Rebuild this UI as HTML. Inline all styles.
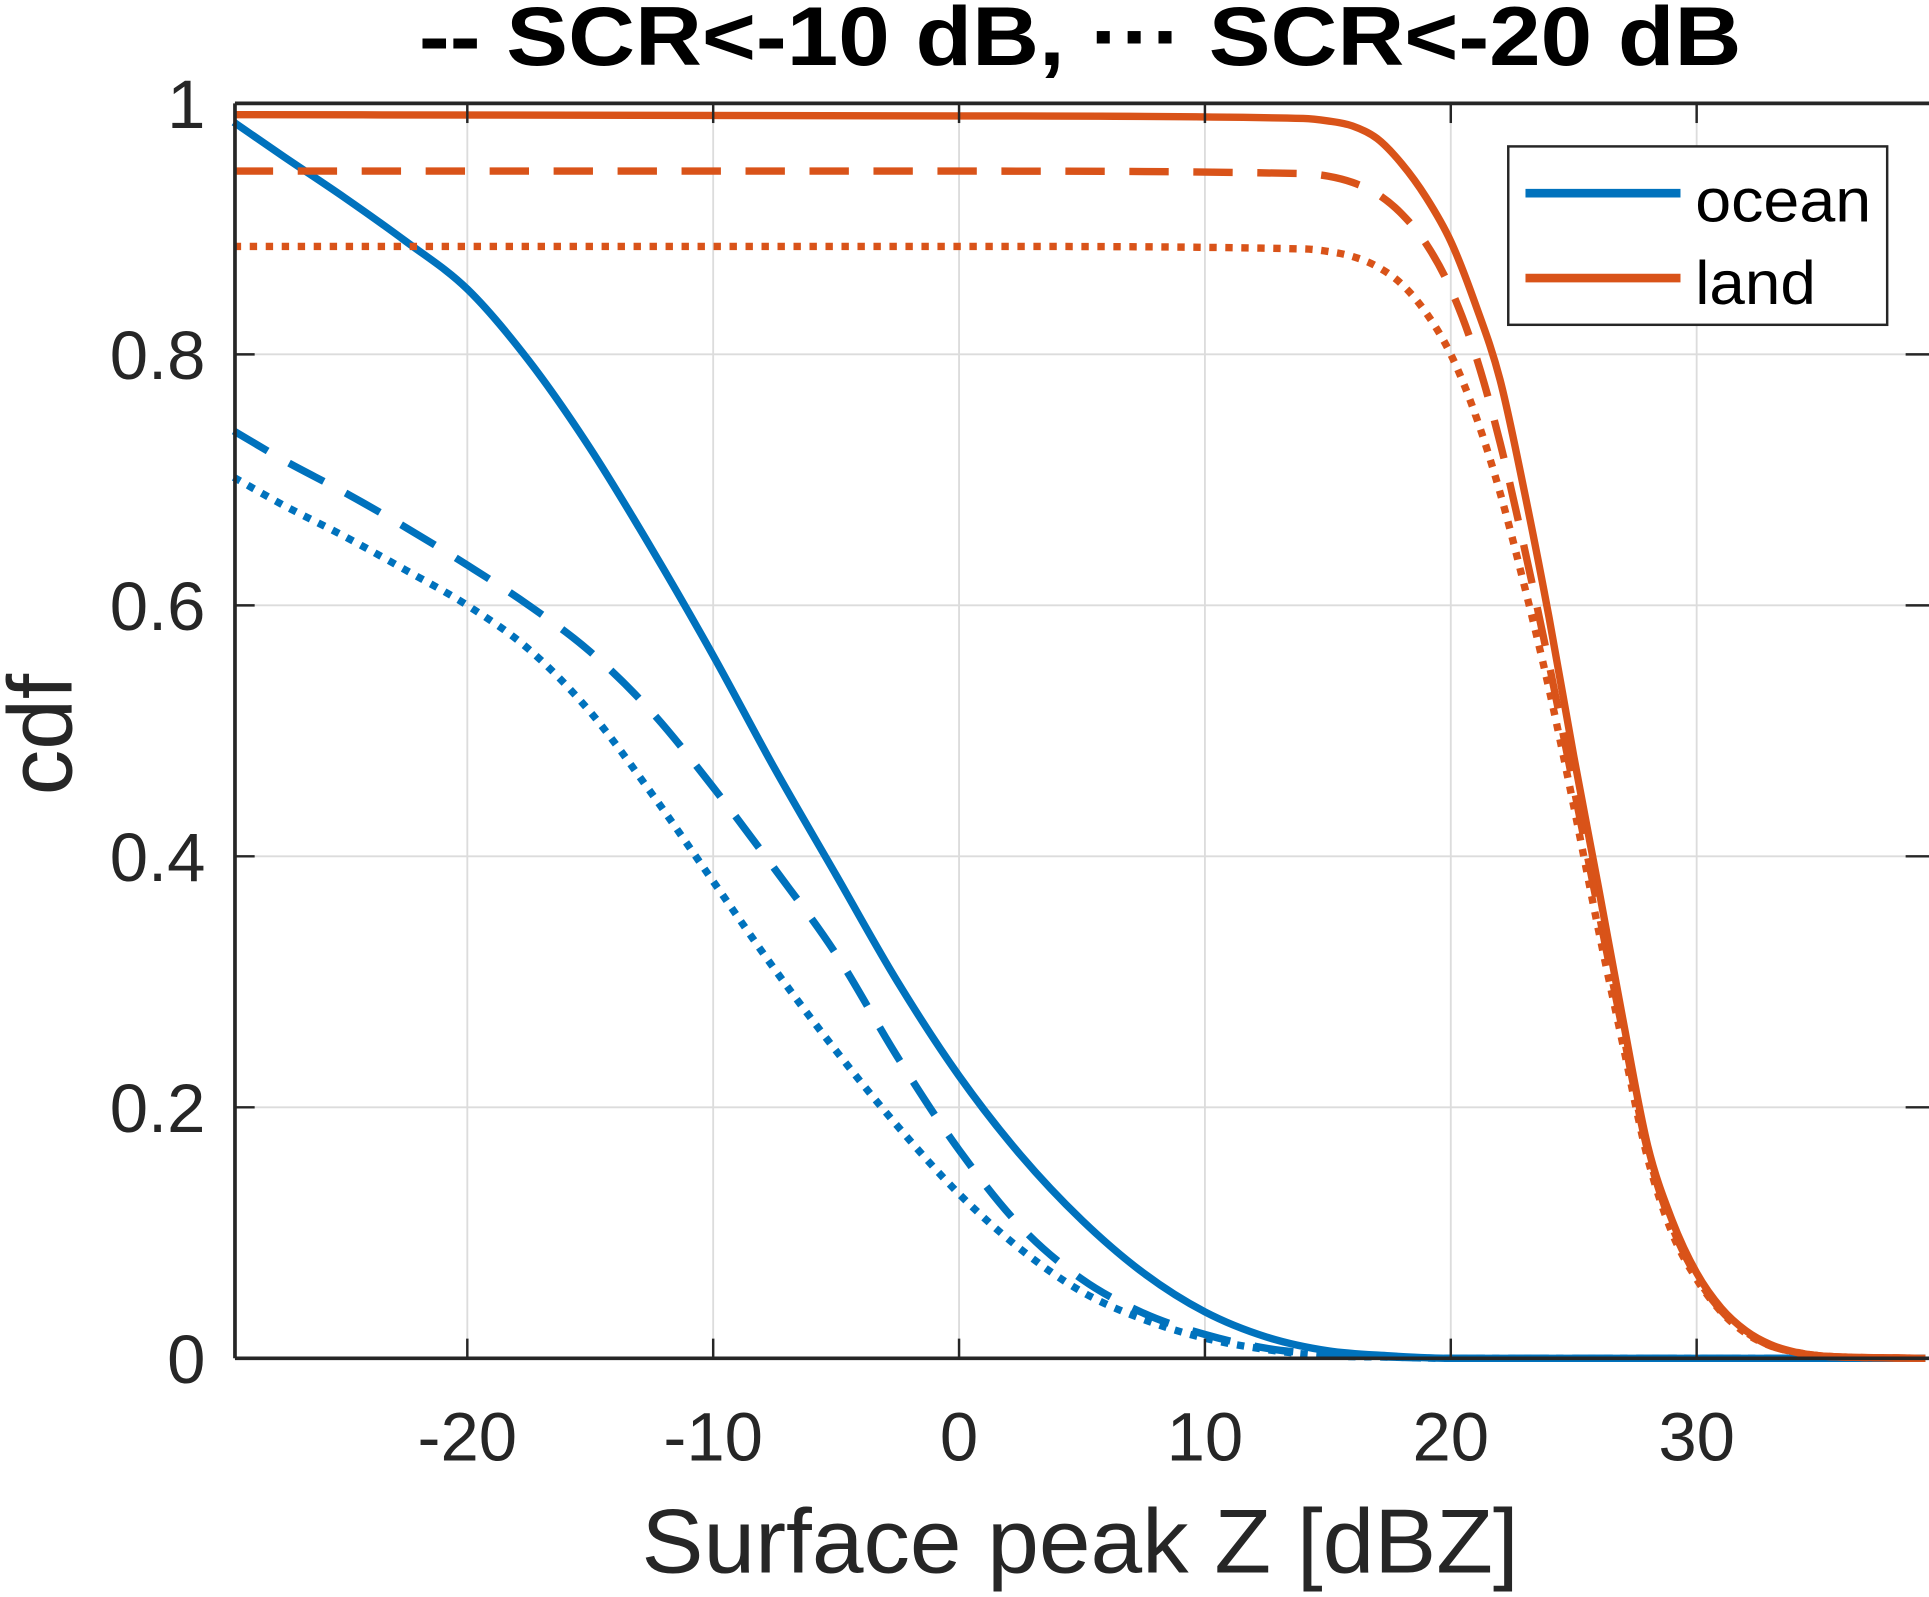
<!DOCTYPE html>
<html><head><meta charset="utf-8"><style>
html,body{margin:0;padding:0;background:#fff;}
svg{display:block;}
text{font-family:"Liberation Sans",Arial,sans-serif;}
</style></head><body>
<svg id="chart" width="1929" height="1597" viewBox="0 0 1568 1298" preserveAspectRatio="none" xmlns="http://www.w3.org/2000/svg">
<g id="grid"></g>
<g id="series"></g>
<g id="axes"></g>
<text x="878" y="53" text-anchor="middle" font-size="68" font-weight="bold" textLength="1075" lengthAdjust="spacingAndGlyphs">-- SCR&lt;-10 dB, ··· SCR&lt;-20 dB</text>
<text x="878" y="1278" text-anchor="middle" font-size="74" fill="#262626" textLength="713" lengthAdjust="spacingAndGlyphs">Surface peak Z [dBZ]</text>
<text transform="translate(58,597) rotate(-90)" text-anchor="middle" font-size="74" fill="#262626">cdf</text>
<g>
<rect x="1226" y="119" width="308" height="145" fill="#fff" stroke="#262626" stroke-width="2"/>
<line x1="1240" y1="157" x2="1366" y2="157" stroke="#0072BD" stroke-width="7"/>
<text x="1378" y="180" font-size="50" textLength="143" lengthAdjust="spacingAndGlyphs">ocean</text>
<line x1="1240" y1="226" x2="1366" y2="226" stroke="#D95319" stroke-width="7"/>
<text x="1378" y="247" font-size="50" textLength="98" lengthAdjust="spacingAndGlyphs">land</text>
</g>
</svg>
<script>
const xTicks=[-20,-10,0,10,20,30];
const yTicks=[0,0.2,0.4,0.6,0.8,1];
const yTickLabels=["0","0.2","0.4","0.6","0.8","1"];
const oceanX=[-29.5,-27.5,-25,-22.5,-20,-17.5,-15,-12.5,-10,-7.5,-5,-2.5,0,2.5,5,7.5,10,12.5,15,17.5,20,39.3];
const oceanSolid=[0.985,0.958,0.925,0.89,0.852,0.795,0.725,0.645,0.56,0.47,0.385,0.30,0.225,0.162,0.11,0.068,0.037,0.017,0.006,0.002,0,0];
const oceanDashed=[0.739,0.716,0.69,0.662,0.632,0.60,0.563,0.515,0.455,0.39,0.322,0.24,0.166,0.105,0.063,0.036,0.019,0.008,0.003,0.001,0,0];
const oceanDotted=[0.702,0.68,0.655,0.628,0.60,0.565,0.515,0.45,0.38,0.31,0.245,0.185,0.131,0.087,0.053,0.031,0.016,0.007,0.002,0.001,0,0];
const landX=[-29.5,0,14,15,16,17,18,19,20,21,22,23,24,25,26,27,28,29,30,31,32,33,34,35,36,39.3];
const landSolid=[0.991,0.99,0.988,0.986,0.982,0.972,0.952,0.925,0.89,0.84,0.78,0.69,0.59,0.48,0.376,0.27,0.17,0.11,0.068,0.04,0.022,0.011,0.005,0.002,0.001,0];
const landDashed=[0.946,0.946,0.944,0.942,0.937,0.928,0.912,0.888,0.852,0.80,0.73,0.645,0.553,0.455,0.357,0.26,0.166,0.105,0.065,0.038,0.021,0.01,0.005,0.002,0.001,0];
const landDotted=[0.886,0.886,0.884,0.882,0.878,0.870,0.856,0.833,0.80,0.752,0.69,0.615,0.533,0.44,0.342,0.25,0.16,0.10,0.063,0.037,0.02,0.01,0.005,0.002,0.001,0];

const L=191,R=1565,T=84,B=1104,X0=-29.45,X1=39.3;
const sx=v=>L+(v-X0)/(X1-X0)*(R-L);
const sy=v=>B-v*(B-T);
const NS="http://www.w3.org/2000/svg";
function mk(tag,attrs,parent){const e=document.createElementNS(NS,tag);for(const k in attrs)e.setAttribute(k,attrs[k]);parent.appendChild(e);return e;}
const grid=document.getElementById('grid'),axes=document.getElementById('axes'),ser=document.getElementById('series');
xTicks.forEach(t=>{
  const g=mk('line',{x1:sx(t),x2:sx(t),y1:T,y2:B,stroke:'#dcdcdc','stroke-width':1.5},grid);
  
  
  const a=mk('line',{x1:sx(t),x2:sx(t),y1:B,y2:B-16,stroke:'#262626','stroke-width':2},axes);
  
  
  const b=mk('line',{x1:sx(t),x2:sx(t),y1:T,y2:T+16,stroke:'#262626','stroke-width':2},axes);
  
  
  const tx=mk('text',{x:sx(t),y:1187,'text-anchor':'middle','font-size':56,fill:'#262626'},axes);
  tx.textContent=String(t);
  
  
});
yTicks.forEach((t,i)=>{
  const g=mk('line',{x1:L,x2:R,y1:sy(t),y2:sy(t),stroke:'#dcdcdc','stroke-width':1.5},grid);
  
  
  const a=mk('line',{x1:L,x2:L+16,y1:sy(t),y2:sy(t),stroke:'#262626','stroke-width':2},axes);
  
  
  const b=mk('line',{x1:R-16,x2:R+3,y1:sy(t),y2:sy(t),stroke:'#262626','stroke-width':2},axes);
  
  
  const tx=mk('text',{x:167,y:sy(t)+20,'text-anchor':'end','font-size':56,fill:'#262626'},axes);
  tx.textContent=yTickLabels[i];
  
  
});
const frame=mk('path',{d:`M${L},${B}H${R+3}M${L},${T}H${R+3}M${L},${T}V${B}`,stroke:'#262626','stroke-width':3,fill:'none'},axes);


function pathFor(xs,ys){
  const n=xs.length,px=xs.map(sx),py=ys.map(sy);
  const d=[],m=new Array(n);
  for(let i=0;i<n-1;i++)d.push((py[i+1]-py[i])/(px[i+1]-px[i]));
  m[0]=d[0];m[n-1]=d[n-2];
  for(let i=1;i<n-1;i++){m[i]=(d[i-1]*d[i]<=0)?0:(d[i-1]+d[i])/2;}
  for(let i=0;i<n-1;i++){
    if(d[i]===0){m[i]=0;m[i+1]=0;continue;}
    const a=m[i]/d[i],b=m[i+1]/d[i],s=a*a+b*b;
    if(s>9){const t=3/Math.sqrt(s);m[i]=t*a*d[i];m[i+1]=t*b*d[i];}
  }
  let p=`M${px[0]},${py[0]}`;
  for(let i=0;i<n-1;i++){
    const h=(px[i+1]-px[i])/3;
    p+=`C${px[i]+h},${py[i]+m[i]*h} ${px[i+1]-h},${py[i+1]-m[i+1]*h} ${px[i+1]},${py[i+1]}`;
  }
  return p;
}
function draw(xs,ys,color,dash,name){
  const attrs={d:pathFor(xs,ys),fill:'none',stroke:color,'stroke-width':6};
  if(dash)attrs['stroke-dasharray']=dash;
  const e=mk('path',attrs,ser);
  
  
}
draw(oceanX,oceanSolid,'#0072BD',null,'ocean-all-line');
draw(oceanX,oceanDashed,'#0072BD','32 20','ocean-scr10-line');
draw(oceanX,oceanDotted,'#0072BD','6 7','ocean-scr20-line');
draw(landX,landSolid,'#D95319',null,'land-all-line');
draw(landX,landDashed,'#D95319','32 20','land-scr10-line');
draw(landX,landDotted,'#D95319','6 7','land-scr20-line');
</script>
</body></html>
